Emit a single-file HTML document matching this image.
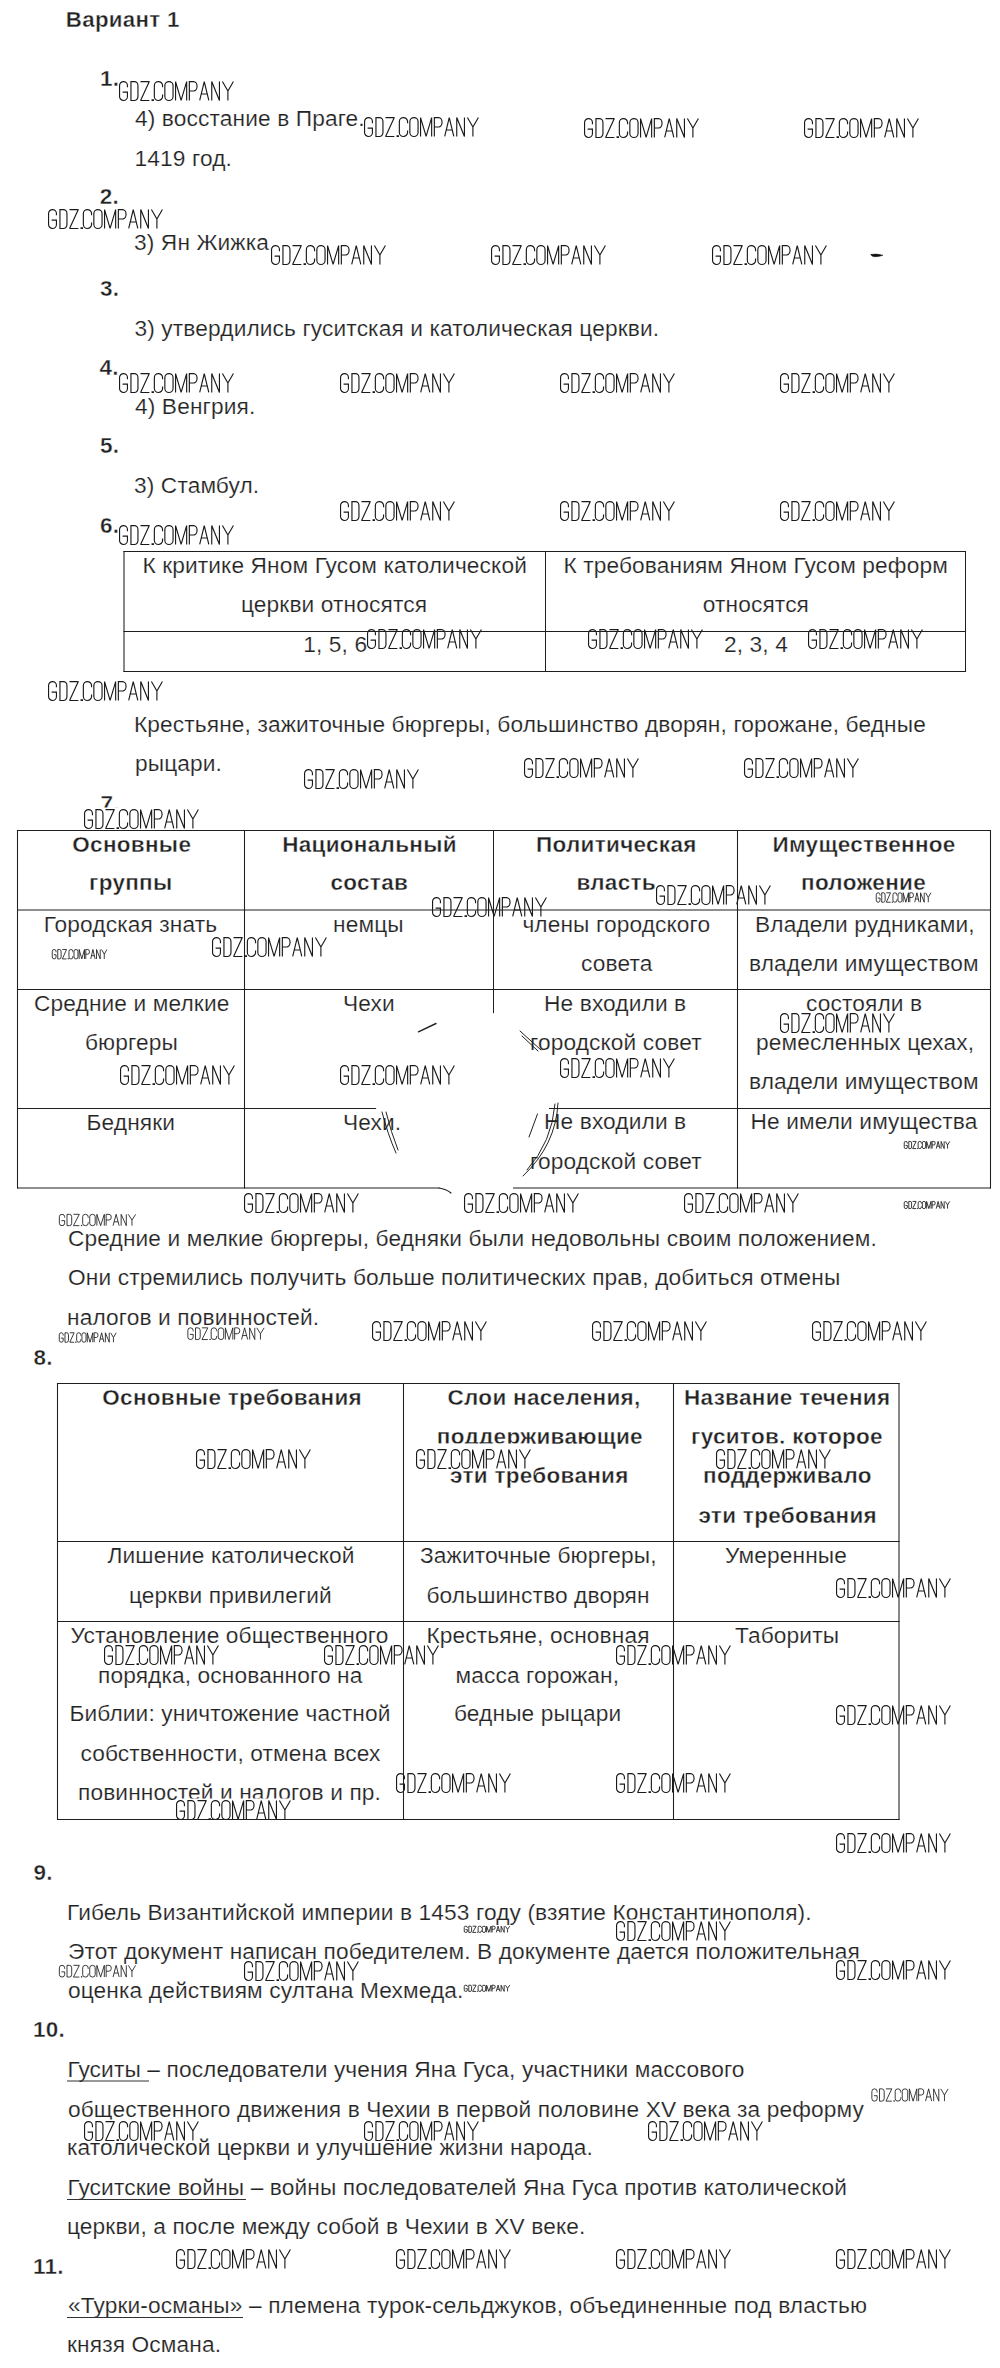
<!DOCTYPE html><html><head><meta charset="utf-8"><style>
html,body{margin:0;padding:0;background:#fff;}body{width:1000px;height:2368px;position:relative;overflow:hidden;font-family:"Liberation Sans",sans-serif;color:#222;}.t{position:absolute;white-space:pre;line-height:1;font-size:22.7px;letter-spacing:0.13px;-webkit-text-stroke:0.2px #fff;}.b{font-weight:bold;font-size:22.5px;letter-spacing:0.3px;-webkit-text-stroke:0.4px #fff;}u{text-decoration:underline;text-underline-offset:3px;text-decoration-thickness:1px;}svg{position:absolute;left:0;top:0;}
</style></head><body>
<div class="t b" style="left:65.8px;top:8.6px;font-size:22.3px">Вариант 1</div>
<div class="t b" style="left:100px;top:67.5px;font-size:22.5px">1.</div>
<div class="t" style="left:135px;top:106.5px">4) восстание в Праге.</div>
<div class="t" style="left:134.6px;top:146.5px">1419 год.</div>
<div class="t b" style="left:99.8px;top:186px;font-size:22.5px">2.</div>
<div class="t" style="left:134px;top:231px">3) Ян Жижка.</div>
<div class="t b" style="left:100px;top:277.8px;font-size:22.5px">3.</div>
<div class="t" style="left:134.5px;top:316.5px">3) утвердились гуситская и католическая церкви.</div>
<div class="t b" style="left:99.5px;top:357.2px;font-size:22.5px">4.</div>
<div class="t" style="left:135px;top:395px">4) Венгрия.</div>
<div class="t b" style="left:100px;top:435px;font-size:22.5px">5.</div>
<div class="t" style="left:134px;top:474px">3) Стамбул.</div>
<div class="t b" style="left:100px;top:515px;font-size:22.5px">6.</div>
<div class="t" style="left:142.4px;top:553.6px">К критике Яном Гусом католической</div>
<div class="t" style="left:241px;top:592.7px">церкви относятся</div>
<div class="t" style="left:303.2px;top:633.4px">1, 5, 6</div>
<div class="t" style="left:563.4px;top:553.8px">К требованиям Яном Гусом реформ</div>
<div class="t" style="left:702.8px;top:593px">относятся</div>
<div class="t" style="left:724px;top:633.4px">2, 3, 4</div>
<div class="t" style="left:134px;top:713px">Крестьяне, зажиточные бюргеры, большинство дворян, горожане, бедные</div>
<div class="t" style="left:135px;top:751.6px">рыцари.</div>
<div class="t b" style="left:100.5px;top:793.2px;font-size:22.5px">7.</div>
<div class="t b" style="left:72.3px;top:833.8px">Основные</div>
<div class="t b" style="left:89px;top:872.4px">группы</div>
<div class="t b" style="left:282.2px;top:833.8px">Национальный</div>
<div class="t b" style="left:330.5px;top:872.4px">состав</div>
<div class="t b" style="left:536px;top:833.6px">Политическая</div>
<div class="t b" style="left:576.4px;top:872.4px">власть</div>
<div class="t b" style="left:772.5px;top:833.6px">Имущественное</div>
<div class="t b" style="left:801px;top:872.4px">положение</div>
<div class="t" style="left:43.7px;top:912.9px">Городская знать</div>
<div class="t" style="left:333px;top:912.9px">немцы</div>
<div class="t" style="left:522.4px;top:913.4px">члены городского</div>
<div class="t" style="left:581px;top:952.4px">совета</div>
<div class="t" style="left:755px;top:913.4px">Владели рудниками,</div>
<div class="t" style="left:749px;top:952.4px">владели имуществом</div>
<div class="t" style="left:34px;top:992.4px">Средние и мелкие</div>
<div class="t" style="left:85px;top:1031.4px">бюргеры</div>
<div class="t" style="left:343px;top:992.4px">Чехи</div>
<div class="t" style="left:544px;top:992.4px">Не входили в</div>
<div class="t" style="left:530px;top:1031.4px">городской совет</div>
<div class="t" style="left:806px;top:992.4px">состояли в</div>
<div class="t" style="left:756px;top:1031.4px">ремесленных цехах,</div>
<div class="t" style="left:749px;top:1070.4px">владели имуществом</div>
<div class="t" style="left:86.5px;top:1111.4px">Бедняки</div>
<div class="t" style="left:343px;top:1111.4px">Чехи.</div>
<div class="t" style="left:544px;top:1110.4px">Не входили в</div>
<div class="t" style="left:530px;top:1150.4px">городской совет</div>
<div class="t" style="left:750.5px;top:1110.4px">Не имели имущества</div>
<div class="t" style="left:68px;top:1226.8px">Средние и мелкие бюргеры, бедняки были недовольны своим положением.</div>
<div class="t" style="left:68px;top:1266px">Они стремились получить больше политических прав, добиться отмены</div>
<div class="t" style="left:67px;top:1305.6px">налогов и повинностей.</div>
<div class="t b" style="left:33.4px;top:1346.8px;font-size:22.5px">8.</div>
<div class="t b" style="left:102.3px;top:1386.6px">Основные требования</div>
<div class="t b" style="left:447.5px;top:1386.6px">Слои населения,</div>
<div class="t b" style="left:436.8px;top:1425.8px">поддерживающие</div>
<div class="t b" style="left:450px;top:1464.8px">эти требования</div>
<div class="t b" style="left:684px;top:1386.6px">Название течения</div>
<div class="t b" style="left:691px;top:1425.8px">гуситов, которое</div>
<div class="t b" style="left:703px;top:1464.8px">поддерживало</div>
<div class="t b" style="left:698.4px;top:1504.8px">эти требования</div>
<div class="t" style="left:107.5px;top:1543.5px">Лишение католической</div>
<div class="t" style="left:129px;top:1583.5px">церкви привилегий</div>
<div class="t" style="left:420px;top:1543.5px">Зажиточные бюргеры,</div>
<div class="t" style="left:426.5px;top:1583.5px">большинство дворян</div>
<div class="t" style="left:725px;top:1543.5px">Умеренные</div>
<div class="t" style="left:70.5px;top:1623.5px">Установление общественного</div>
<div class="t" style="left:98px;top:1663.5px">порядка, основанного на</div>
<div class="t" style="left:69.5px;top:1702px">Библии: уничтожение частной</div>
<div class="t" style="left:80.5px;top:1742px">собственности, отмена всех</div>
<div class="t" style="left:78px;top:1781px">повинностей и налогов и пр.</div>
<div class="t" style="left:426.5px;top:1623.5px">Крестьяне, основная</div>
<div class="t" style="left:455.5px;top:1663.5px">масса горожан,</div>
<div class="t" style="left:454px;top:1702px">бедные рыцари</div>
<div class="t" style="left:735px;top:1623.5px">Табориты</div>
<div class="t b" style="left:33.4px;top:1861.8px;font-size:22.5px">9.</div>
<div class="t" style="left:67px;top:1901px">Гибель Византийской империи в 1453 году (взятие Константинополя).</div>
<div class="t" style="left:68px;top:1940.4px">Этот документ написан победителем. В документе дается положительная</div>
<div class="t" style="left:68px;top:1979px">оценка действиям султана Мехмеда.</div>
<div class="t b" style="left:32.9px;top:2019.2px;font-size:22.5px">10.</div>
<div class="t" style="left:67.5px;top:2057.8px">Гуситы – последователи учения Яна Гуса, участники массового</div>
<div class="t" style="left:68px;top:2097.6px">общественного движения в Чехии в первой половине XV века за реформу</div>
<div class="t" style="left:67px;top:2136.4px">католической церкви и улучшение жизни народа.</div>
<div class="t" style="left:67.5px;top:2175.5px">Гуситские войны – войны последователей Яна Гуса против католической</div>
<div class="t" style="left:67px;top:2215px">церкви, а после между собой в Чехии в XV веке.</div>
<div class="t b" style="left:32.9px;top:2256px;font-size:22.5px">11.</div>
<div class="t" style="left:68px;top:2294px">«Турки-османы» – племена турок-сельджуков, объединенные под властью</div>
<div class="t" style="left:67px;top:2332.5px">князя Османа.</div>
<svg width="1000" height="2368" viewBox="0 0 1000 2368">
<defs><path id="g" d="M8.45,6.2V4.55A3.95,4 0 0 0 4.5,0.55A3.95,4 0 0 0 0.55,4.55V15.45A3.95,4 0 0 0 4.5,19.45A3.95,4 0 0 0 8.45,15.45V11.1H3.6M11.95,0.55H15.4A3.55,4 0 0 1 18.95,4.55V15.45A3.55,4 0 0 1 15.4,19.45H11.95ZM21.5,0.55H30.3L21.6,19.45H30.4M33.1,18.9h1.3v0.6h-1.3zM43.55,6.2V4.55A4.1,4 0 0 0 39.45,0.55A4.1,4 0 0 0 35.35,4.55V15.45A4.1,4 0 0 0 39.45,19.45A4.1,4 0 0 0 43.55,15.45V13.6M45.85,4.55A4.1,4 0 0 1 49.95,0.55A4.1,4 0 0 1 54.05,4.55V15.45A4.1,4 0 0 1 49.95,19.45A4.1,4 0 0 1 45.85,15.45ZM56.55,19.45V0.55L62.1,19.45L67.65,0.55V19.45M70.35,19.45V0.55H74.6A3.45,4.7 0 0 1 78.05,5.25V5.3A3.45,4.7 0 0 1 74.6,10H70.35M80.7,19.45L85.25,0.55L89.8,19.45M82.3,13H88.2M92.75,19.45V0.55L100.45,19.45V0.55M103.4,0.55L108.9,10L114.4,0.55M108.9,10V19.45" fill="none" stroke="#1a1a1a" stroke-width="1.15" stroke-miterlimit="1.5"/><path id="gs" d="M8.45,6.2V4.55A3.95,4 0 0 0 4.5,0.55A3.95,4 0 0 0 0.55,4.55V15.45A3.95,4 0 0 0 4.5,19.45A3.95,4 0 0 0 8.45,15.45V11.1H3.6M11.95,0.55H15.4A3.55,4 0 0 1 18.95,4.55V15.45A3.55,4 0 0 1 15.4,19.45H11.95ZM21.5,0.55H30.3L21.6,19.45H30.4M33.1,18.9h1.3v0.6h-1.3zM43.55,6.2V4.55A4.1,4 0 0 0 39.45,0.55A4.1,4 0 0 0 35.35,4.55V15.45A4.1,4 0 0 0 39.45,19.45A4.1,4 0 0 0 43.55,15.45V13.6M45.85,4.55A4.1,4 0 0 1 49.95,0.55A4.1,4 0 0 1 54.05,4.55V15.45A4.1,4 0 0 1 49.95,19.45A4.1,4 0 0 1 45.85,15.45ZM56.55,19.45V0.55L62.1,19.45L67.65,0.55V19.45M70.35,19.45V0.55H74.6A3.45,4.7 0 0 1 78.05,5.25V5.3A3.45,4.7 0 0 1 74.6,10H70.35M80.7,19.45L85.25,0.55L89.8,19.45M82.3,13H88.2M92.75,19.45V0.55L100.45,19.45V0.55M103.4,0.55L108.9,10L114.4,0.55M108.9,10V19.45" fill="none" stroke="#1a1a1a" stroke-width="0.85" stroke-miterlimit="1.5" vector-effect="non-scaling-stroke"/></defs>
<rect x="119" y="79.5" width="115" height="21.5" fill="#fff"/>
<use href="#g" transform="translate(119 81) scale(1 1)"/>
<rect x="364" y="115.5" width="115" height="21.5" fill="#fff"/>
<use href="#g" transform="translate(364 117) scale(1 1)"/>
<rect x="584" y="116.5" width="115" height="21.5" fill="#fff"/>
<use href="#g" transform="translate(584 118) scale(1 1)"/>
<rect x="804" y="116.5" width="115" height="21.5" fill="#fff"/>
<use href="#g" transform="translate(804 118) scale(1 1)"/>
<rect x="48" y="207.5" width="115" height="21.5" fill="#fff"/>
<use href="#g" transform="translate(48 209) scale(1 1)"/>
<rect x="271" y="243.5" width="115" height="21.5" fill="#fff"/>
<use href="#g" transform="translate(271 245) scale(1 1)"/>
<rect x="491" y="243.5" width="115" height="21.5" fill="#fff"/>
<use href="#g" transform="translate(491 245) scale(1 1)"/>
<rect x="712" y="243.5" width="115" height="21.5" fill="#fff"/>
<use href="#g" transform="translate(712 245) scale(1 1)"/>
<rect x="119" y="371.5" width="115" height="21.5" fill="#fff"/>
<use href="#g" transform="translate(119 373) scale(1 1)"/>
<rect x="340" y="371.5" width="115" height="21.5" fill="#fff"/>
<use href="#g" transform="translate(340 373) scale(1 1)"/>
<rect x="560" y="371.5" width="115" height="21.5" fill="#fff"/>
<use href="#g" transform="translate(560 373) scale(1 1)"/>
<rect x="780" y="371.5" width="115" height="21.5" fill="#fff"/>
<use href="#g" transform="translate(780 373) scale(1 1)"/>
<rect x="340" y="499.5" width="115" height="21.5" fill="#fff"/>
<use href="#g" transform="translate(340 501) scale(1 1)"/>
<rect x="560" y="499.5" width="115" height="21.5" fill="#fff"/>
<use href="#g" transform="translate(560 501) scale(1 1)"/>
<rect x="780" y="499.5" width="115" height="21.5" fill="#fff"/>
<use href="#g" transform="translate(780 501) scale(1 1)"/>
<rect x="119" y="523.5" width="115" height="21.5" fill="#fff"/>
<use href="#g" transform="translate(119 525) scale(1 1)"/>
<rect x="367" y="627.5" width="115" height="21.5" fill="#fff"/>
<use href="#g" transform="translate(367 629) scale(1 1)"/>
<rect x="588" y="627.5" width="115" height="21.5" fill="#fff"/>
<use href="#g" transform="translate(588 629) scale(1 1)"/>
<rect x="808" y="627.5" width="115" height="21.5" fill="#fff"/>
<use href="#g" transform="translate(808 629) scale(1 1)"/>
<rect x="48" y="679.5" width="115" height="21.5" fill="#fff"/>
<use href="#g" transform="translate(48 681) scale(1 1)"/>
<rect x="304" y="767.5" width="115" height="21.5" fill="#fff"/>
<use href="#g" transform="translate(304 769) scale(1 1)"/>
<rect x="524" y="756.5" width="115" height="21.5" fill="#fff"/>
<use href="#g" transform="translate(524 758) scale(1 1)"/>
<rect x="744" y="756.5" width="115" height="21.5" fill="#fff"/>
<use href="#g" transform="translate(744 758) scale(1 1)"/>
<rect x="84" y="807.5" width="115" height="21.5" fill="#fff"/>
<use href="#g" transform="translate(84 809) scale(1 1)"/>
<rect x="656" y="883.5" width="115" height="21.5" fill="#fff"/>
<use href="#g" transform="translate(656 885) scale(1 1)"/>
<rect x="432" y="895.5" width="115" height="21.5" fill="#fff"/>
<use href="#g" transform="translate(432 897) scale(1 1)"/>
<rect x="212" y="935.5" width="115" height="21.5" fill="#fff"/>
<use href="#g" transform="translate(212 937) scale(1 1)"/>
<rect x="780" y="1011.5" width="115" height="21.5" fill="#fff"/>
<use href="#g" transform="translate(780 1013) scale(1 1)"/>
<rect x="560" y="1056.5" width="115" height="21.5" fill="#fff"/>
<use href="#g" transform="translate(560 1058) scale(1 1)"/>
<rect x="120" y="1063.5" width="115" height="21.5" fill="#fff"/>
<use href="#g" transform="translate(120 1065) scale(1 1)"/>
<rect x="340" y="1063.5" width="115" height="21.5" fill="#fff"/>
<use href="#g" transform="translate(340 1065) scale(1 1)"/>
<rect x="244" y="1191.5" width="115" height="21.5" fill="#fff"/>
<use href="#g" transform="translate(244 1193) scale(1 1)"/>
<rect x="464" y="1191.5" width="115" height="21.5" fill="#fff"/>
<use href="#g" transform="translate(464 1193) scale(1 1)"/>
<rect x="684" y="1191.5" width="115" height="21.5" fill="#fff"/>
<use href="#g" transform="translate(684 1193) scale(1 1)"/>
<rect x="372" y="1319.5" width="115" height="21.5" fill="#fff"/>
<use href="#g" transform="translate(372 1321) scale(1 1)"/>
<rect x="592" y="1319.5" width="115" height="21.5" fill="#fff"/>
<use href="#g" transform="translate(592 1321) scale(1 1)"/>
<rect x="812" y="1319.5" width="115" height="21.5" fill="#fff"/>
<use href="#g" transform="translate(812 1321) scale(1 1)"/>
<rect x="196" y="1447.5" width="115" height="21.5" fill="#fff"/>
<use href="#g" transform="translate(196 1449) scale(1 1)"/>
<rect x="836" y="1576.5" width="115" height="21.5" fill="#fff"/>
<use href="#g" transform="translate(836 1578) scale(1 1)"/>
<rect x="104" y="1643.5" width="115" height="21.5" fill="#fff"/>
<use href="#g" transform="translate(104 1645) scale(1 1)"/>
<rect x="324" y="1643.5" width="115" height="21.5" fill="#fff"/>
<use href="#g" transform="translate(324 1645) scale(1 1)"/>
<rect x="616" y="1643.5" width="115" height="21.5" fill="#fff"/>
<use href="#g" transform="translate(616 1645) scale(1 1)"/>
<rect x="836" y="1703.5" width="115" height="21.5" fill="#fff"/>
<use href="#g" transform="translate(836 1705) scale(1 1)"/>
<rect x="396" y="1771.5" width="115" height="21.5" fill="#fff"/>
<use href="#g" transform="translate(396 1773) scale(1 1)"/>
<rect x="616" y="1771.5" width="115" height="21.5" fill="#fff"/>
<use href="#g" transform="translate(616 1773) scale(1 1)"/>
<rect x="176" y="1798.5" width="115" height="21.5" fill="#fff"/>
<use href="#g" transform="translate(176 1800) scale(1 1)"/>
<rect x="836" y="1831.5" width="115" height="21.5" fill="#fff"/>
<use href="#g" transform="translate(836 1833) scale(1 1)"/>
<rect x="616" y="1919.5" width="115" height="21.5" fill="#fff"/>
<use href="#g" transform="translate(616 1921) scale(1 1)"/>
<rect x="244" y="1959.5" width="115" height="21.5" fill="#fff"/>
<use href="#g" transform="translate(244 1961) scale(1 1)"/>
<rect x="836" y="1958.5" width="115" height="21.5" fill="#fff"/>
<use href="#g" transform="translate(836 1960) scale(1 1)"/>
<rect x="84" y="2119.5" width="115" height="21.5" fill="#fff"/>
<use href="#g" transform="translate(84 2121) scale(1 1)"/>
<rect x="364" y="2119.5" width="115" height="21.5" fill="#fff"/>
<use href="#g" transform="translate(364 2121) scale(1 1)"/>
<rect x="648" y="2119.5" width="115" height="21.5" fill="#fff"/>
<use href="#g" transform="translate(648 2121) scale(1 1)"/>
<rect x="176" y="2247.5" width="115" height="21.5" fill="#fff"/>
<use href="#g" transform="translate(176 2249) scale(1 1)"/>
<rect x="396" y="2247.5" width="115" height="21.5" fill="#fff"/>
<use href="#g" transform="translate(396 2249) scale(1 1)"/>
<rect x="616" y="2247.5" width="115" height="21.5" fill="#fff"/>
<use href="#g" transform="translate(616 2249) scale(1 1)"/>
<rect x="836" y="2247.5" width="115" height="21.5" fill="#fff"/>
<use href="#g" transform="translate(836 2249) scale(1 1)"/>
<rect x="416" y="1443.5" width="115" height="25.5" fill="#fff"/>
<use href="#g" transform="translate(416 1449) scale(1 1)"/>
<rect x="716" y="1443.5" width="115" height="25.5" fill="#fff"/>
<use href="#g" transform="translate(716 1449) scale(1 1)"/>
<rect x="52" y="948.45" width="55" height="10.75" fill="#fff"/>
<use href="#gs" transform="translate(52 949.2) scale(0.48 0.5)"/>
<rect x="876" y="891.75" width="55" height="10.75" fill="#fff"/>
<use href="#gs" transform="translate(876 892.5) scale(0.48 0.5)"/>
<rect x="904" y="1140.63" width="46" height="8.17" fill="#fff"/>
<use href="#gs" transform="translate(904 1141.2) scale(0.4 0.38)"/>
<rect x="904" y="1200.63" width="46" height="8.17" fill="#fff"/>
<use href="#gs" transform="translate(904 1201.2) scale(0.4 0.38)"/>
<rect x="59" y="1213.1" width="77" height="12.9" fill="#fff"/>
<use href="#gs" transform="translate(59 1214) scale(0.67 0.6)"/>
<rect x="59" y="1331.75" width="57" height="10.75" fill="#fff"/>
<use href="#gs" transform="translate(59 1332.5) scale(0.5 0.5)"/>
<rect x="187.5" y="1326.56" width="77" height="13.44" fill="#fff"/>
<use href="#gs" transform="translate(187.5 1327.5) scale(0.67 0.62)"/>
<rect x="464" y="1925.51" width="46" height="6.99" fill="#fff"/>
<use href="#gs" transform="translate(464 1926) scale(0.4 0.33)"/>
<rect x="59" y="1964.06" width="77" height="13.44" fill="#fff"/>
<use href="#gs" transform="translate(59 1965) scale(0.67 0.62)"/>
<rect x="464" y="1984.51" width="46" height="6.99" fill="#fff"/>
<use href="#gs" transform="translate(464 1985) scale(0.4 0.33)"/>
<rect x="871.5" y="2087.53" width="77" height="13.97" fill="#fff"/>
<use href="#gs" transform="translate(871.5 2088.5) scale(0.67 0.65)"/>
</svg>
<svg width="1000" height="2368" viewBox="0 0 1000 2368">
<g stroke="#1e1e1e" stroke-width="1.05" fill="none" stroke-linecap="square">
<line x1="124" y1="551.5" x2="965.5" y2="551.5"/>
<line x1="124" y1="631.5" x2="965.5" y2="631.5"/>
<line x1="124" y1="671.5" x2="965.5" y2="671.5"/>
<line x1="124" y1="551.5" x2="124" y2="671.5"/>
<line x1="545.5" y1="551.5" x2="545.5" y2="671.5"/>
<line x1="965.5" y1="551.5" x2="965.5" y2="671.5"/>
<line x1="17.5" y1="830.5" x2="990.5" y2="830.5"/>
<line x1="17.5" y1="910" x2="990.5" y2="910"/>
<line x1="17.5" y1="989.5" x2="990.5" y2="989.5"/>
<line x1="17.5" y1="1108.5" x2="375.6" y2="1108.5"/>
<line x1="549.5" y1="1108.5" x2="990.5" y2="1108.5"/>
<line x1="17.5" y1="1188" x2="439" y2="1188"/>
<line x1="513.5" y1="1188" x2="990.5" y2="1188"/>
<line x1="17.5" y1="830.5" x2="17.5" y2="1188"/>
<line x1="244.5" y1="830.5" x2="244.5" y2="1188"/>
<line x1="493.5" y1="830.5" x2="493.5" y2="1012.6"/>
<line x1="737.5" y1="830.5" x2="737.5" y2="1188"/>
<line x1="990.5" y1="830.5" x2="990.5" y2="1188"/>
<line x1="57.5" y1="1383.5" x2="899" y2="1383.5"/>
<line x1="57.5" y1="1541.5" x2="899" y2="1541.5"/>
<line x1="57.5" y1="1621.5" x2="899" y2="1621.5"/>
<line x1="57.5" y1="1819.5" x2="899" y2="1819.5"/>
<line x1="57.5" y1="1383.5" x2="57.5" y2="1819.5"/>
<line x1="403.5" y1="1383.5" x2="403.5" y2="1819.5"/>
<line x1="673.5" y1="1383.5" x2="673.5" y2="1819.5"/>
<line x1="899" y1="1383.5" x2="899" y2="1819.5"/>
</g>
<g stroke="#333" stroke-width="1.1">
<line x1="67" y1="2081" x2="149" y2="2081"/>
<line x1="67" y1="2199.5" x2="246" y2="2199.5"/>
<line x1="67" y1="2317.5" x2="243" y2="2317.5"/>
</g>
<g stroke="#222" fill="none" stroke-linecap="round">
<path d="M871.2,254.4Q876,253.4 882.8,255.3Q878,257.2 873.5,256.6Q871,256 871.2,254.4Z" fill="#111" stroke="#111" stroke-width="0.6"/>
<path d="M418.4,1031.8L436,1023.5" stroke-width="1.4"/>
<path d="M520,1031L541,1050M522,1036L538,1051" stroke-width="1"/>
<path d="M382,1112Q388,1135 396,1153M386,1112Q391,1132 398,1150" stroke-width="1"/>
<path d="M537.5,1114L529,1137" stroke-width="1"/>
<path d="M558,1103Q556,1145 523,1176M555,1104Q552,1142 527,1170" stroke-width="1"/>
<path d="M439,1188Q446,1189 451,1193" stroke-width="1.2"/>
</g>
</svg>
</body></html>
